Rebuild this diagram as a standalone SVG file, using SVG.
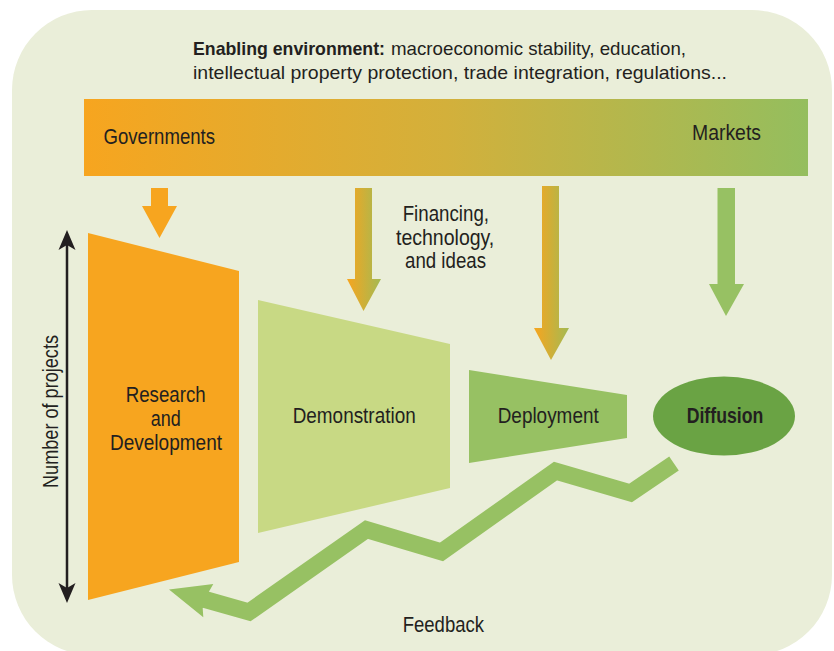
<svg xmlns="http://www.w3.org/2000/svg" width="834" height="651" viewBox="0 0 834 651">
<defs>
<linearGradient id="barGrad" x1="0" y1="0" x2="1" y2="0">
<stop offset="0" stop-color="#F7A51F"/>
<stop offset="0.5" stop-color="#D3B03B"/>
<stop offset="1" stop-color="#94BE5E"/>
</linearGradient>
<linearGradient id="arrGrad" x1="0" y1="0" x2="1" y2="0">
<stop offset="0" stop-color="#F7A51F"/>
<stop offset="1" stop-color="#A3BA53"/>
</linearGradient>
<style>
.t{font-family:"Liberation Sans Narrow","Liberation Sans",Arial,sans-serif;fill:#231F20;font-size:22px}
.h{font-family:"Liberation Sans Narrow","Liberation Sans",Arial,sans-serif;fill:#231F20;font-size:19px}
.b{font-weight:bold}
</style>
</defs>
<rect x="0" y="0" width="834" height="651" fill="#FFFFFF"/>
<rect id="background" x="12" y="10" width="820" height="645" rx="80" ry="80" fill="#EAEED9"/>
<g id="header">
<text class="h b" x="193" y="55" textLength="192" lengthAdjust="spacingAndGlyphs">Enabling environment:</text>
<text class="h" x="391" y="55" textLength="295" lengthAdjust="spacingAndGlyphs">macroeconomic stability, education,</text>
<text class="h" x="193" y="79" textLength="534" lengthAdjust="spacingAndGlyphs">intellectual property protection, trade integration, regulations...</text>
</g>
<g id="bar">
<rect x="84" y="99" width="724" height="77" fill="url(#barGrad)"/>
<text class="t" x="103.5" y="144" textLength="111.5" lengthAdjust="spacingAndGlyphs">Governments</text>
<text class="t" x="692" y="140" textLength="69" lengthAdjust="spacingAndGlyphs">Markets</text>
</g>
<g id="axis">
<line x1="67" y1="245" x2="67" y2="588" stroke="#231F20" stroke-width="2.5"/>
<path d="M67,230 L75.5,250 L67,245 L58.5,250 Z" fill="#231F20"/>
<path d="M67,603 L75.5,583 L67,588 L58.5,583 Z" fill="#231F20"/>
<text class="t" transform="translate(57.5,488) rotate(-90)" textLength="153" lengthAdjust="spacingAndGlyphs">Number of projects</text>
</g>
<g id="rd">
<polygon points="88,233 239,271 239,562 88,600" fill="#F7A51F"/>
<text class="t" x="125.7" y="402" textLength="80" lengthAdjust="spacingAndGlyphs">Research</text>
<text class="t" x="150.7" y="426" textLength="30" lengthAdjust="spacingAndGlyphs">and</text>
<text class="t" x="110" y="450" textLength="112" lengthAdjust="spacingAndGlyphs">Development</text>
</g>
<g id="demonstration">
<polygon points="258,300 450,344 450,488 258,533" fill="#C8D984"/>
<text class="t" x="292.7" y="423" textLength="123" lengthAdjust="spacingAndGlyphs">Demonstration</text>
</g>
<g id="deployment">
<polygon points="469,370 627,395 627,438 469,463" fill="#97C163"/>
<text class="t" x="497.7" y="423" textLength="101" lengthAdjust="spacingAndGlyphs">Deployment</text>
</g>
<g id="diffusion">
<ellipse cx="724" cy="416" rx="71" ry="39.5" fill="#6AA344"/>
<text class="t b" x="686.7" y="423" textLength="76.6" lengthAdjust="spacingAndGlyphs">Diffusion</text>
</g>
<g id="financing">
<text class="t" x="402.7" y="221" textLength="86.3" lengthAdjust="spacingAndGlyphs">Financing,</text>
<text class="t" x="396" y="244.5" textLength="98.3" lengthAdjust="spacingAndGlyphs">technology,</text>
<text class="t" x="405" y="268" textLength="81" lengthAdjust="spacingAndGlyphs">and ideas</text>
</g>
<g id="connectors">
<polygon points="151,188 168,188 168,206 177,206 159.5,238 142,206 151,206" fill="#F7A51F"/>
<polygon points="355,188 372,188 372,279 381,279 363.5,311 347,279 355,279" fill="url(#arrGrad)"/>
<polygon points="542,186 559,186 559,328 569,328 551,360 534,328 542,328" fill="url(#arrGrad)"/>
<polygon points="717.5,188 735,188 735,284 744,284 726,316 709,284 717.5,284" fill="#97C163"/>
<polyline points="674,463.5 630.5,493 555.5,471 441.5,552 366.5,529.5 249,612 198,597.5" fill="none" stroke="#97C163" stroke-width="17" stroke-linejoin="miter" stroke-miterlimit="10"/>
<polygon points="169,589.5 213.3,584 208.3,592.7 202.7,608.3 203.3,617.3" fill="#97C163"/>
<text class="t" x="402.7" y="632" textLength="81.3" lengthAdjust="spacingAndGlyphs">Feedback</text>
</g>
</svg>
